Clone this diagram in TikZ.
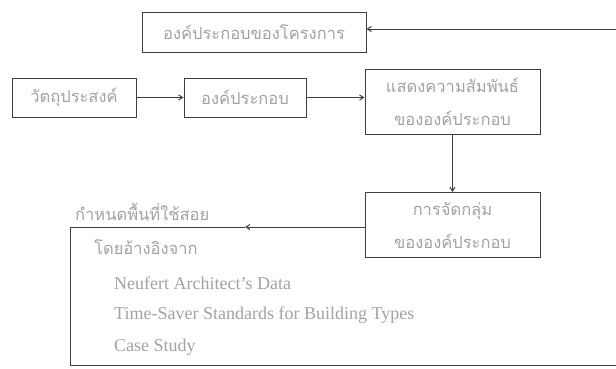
\documentclass[tikz,border=0pt]{standalone}
\usepackage{fontspec}
\setmainfont{Liberation Serif}
\newfontfamily\thaifont[Script=Thai]{Loma}
\usetikzlibrary{arrows.meta,positioning,calc}
\definecolor{pline}{RGB}{60,64,62}
\definecolor{ptext}{RGB}{160,163,161}
\tikzset{
  box/.style ={rectangle, draw=pline, line width=1pt, fill=white,
               align=center, inner sep=2pt, text=ptext,
               font=\thaifont\fontsize{16.5}{33}\selectfont},
  ar/.style  ={-{Straight Barb[length=4pt,width=5pt]}, draw=pline, line width=1pt},
  ln/.style  ={draw=pline, line width=1pt},
  lbl/.style ={text=ptext, inner sep=0pt, font=\thaifont\fontsize{16.5}{18}\selectfont},
  ref/.style ={text=ptext, inner sep=0pt, font=\fontsize{18}{20}\selectfont}
}
\begin{document}
\begin{tikzpicture}[x=1pt,y=-1pt]
\useasboundingbox (0,0) rectangle (616,368);
% top row
\node[box, minimum width=224pt, minimum height=40pt] (prog) at (254,32) {องค์ประกอบของโครงการ};
\coordinate (feed) at (616,29);
% middle row
\node[box, minimum width=124pt, minimum height=39pt] (goal) at (74,97.5) {วัตถุประสงค์};
\node[box, minimum width=122pt, minimum height=39pt] (comp) at (245,97.5) {องค์ประกอบ};
\node[box, minimum width=175pt, minimum height=65pt] (rel) at (452.5,102) {แสดงความสัมพันธ์\\ขององค์ประกอบ};
\node[box, minimum width=175pt, minimum height=65pt] (area) at (452.5,225) {การจัดกลุ่ม\\ขององค์ประกอบ};

\draw[ar] (feed) -- (prog.east |- feed);
\draw[ar] (goal) -- (comp);
\draw[ar] (comp.east) -- (rel.west |- comp.east);
\draw[ar] (rel) -- (area);

% source area
\coordinate (srctl) at (70,227);
\coordinate (srcbl) at (70,365);
\coordinate (srcbr) at (616,365);
\coordinate (tip) at (245,227);
\draw[ar] (area.west |- srctl) -- (tip);
\draw[ln] (tip) -- (srctl) -- (srcbl) -- (srcbr);
\node[lbl, anchor=south west] (use) at (75,221) {กำหนดพื้นที่ใช้สอย};
\node[lbl, anchor=west] (via) at (94,247) {โดยอ้างอิงจาก};
\node[ref, anchor=west] (neuf) at (114,283) {Neufert Architect's Data};
\node[ref, anchor=west] (tss) at (114,315) {Time-Saver Standards for Building Types};
\node[ref, anchor=west] (case) at (114,347) {Case Study};
\end{tikzpicture}
\end{document}
